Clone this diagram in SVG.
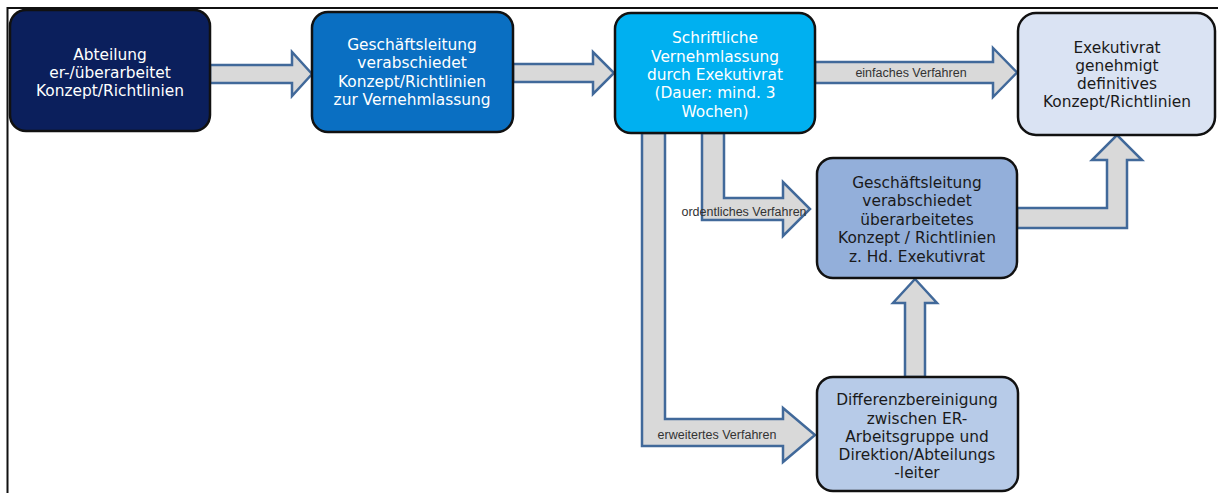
<svg xmlns="http://www.w3.org/2000/svg" width="1218" height="493" viewBox="0 0 1218 493">
<style>
.box{stroke:#111;stroke-width:2.5}
.arr{fill:#D9D9D9;stroke:#41699A;stroke-width:2.5;stroke-linejoin:miter}
.t{font-family:"DejaVu Sans",Verdana,sans-serif;font-size:15.4px;text-anchor:middle}
.w{fill:#fff}
.d{fill:#1a1a1a}
.lbl{font-family:"Liberation Sans",Arial,sans-serif;font-size:12.5px;fill:#333;text-anchor:middle}
</style>
<rect width="1218" height="493" fill="#fff"/>
<path d="M7.5,493 V8 H1218" fill="none" stroke="#111" stroke-width="2"/>
<g id="connectors">
<polygon class="arr" points="210,65 292,65 292,52 312,74 292,96 292,83 210,83"/>
<polygon class="arr" points="513,64 593,64 593,52 614,73 593,94 593,82 513,82"/>
<polygon class="arr" points="815,62 993,62 993,48 1017,72.5 993,97 993,83 815,83"/>
<polygon class="arr" points="702,133 724,133 724,198 783,198 783,182 810,209 783,236 783,220 702,220"/>
<polygon class="arr" points="642,133 665,133 665,419 783,419 783,408 815,435 783,462 783,446 642,446"/>
<polygon class="arr" points="905,377 905,303 893,303 915,279 937,303 925,303 925,377"/>
<polygon class="arr" points="1017,208 1107,208 1107,160 1092,160 1117,135 1142,160 1127,160 1127,228 1017,228"/>
<text class="lbl" x="911" y="77">einfaches Verfahren</text>
<text class="lbl" x="744" y="216">ordentliches Verfahren</text>
<text class="lbl" x="717" y="439">erweitertes Verfahren</text>
</g>
<g id="n1">
<rect class="box" x="10" y="10" width="200" height="121" rx="16" fill="#0B1F5C"/>
<text class="t w" x="110" y="60">Abteilung</text>
<text class="t w" x="110" y="78">er-/überarbeitet</text>
<text class="t w" x="110" y="96">Konzept/Richtlinien</text>
</g>
<g id="n2">
<rect class="box" x="312" y="12" width="201" height="120" rx="16" fill="#0A6FC2"/>
<text class="t w" x="412" y="50">Geschäftsleitung</text>
<text class="t w" x="412" y="68">verabschiedet</text>
<text class="t w" x="412" y="87">Konzept/Richtlinien</text>
<text class="t w" x="412" y="105">zur Vernehmlassung</text>
</g>
<g id="n3">
<rect class="box" x="615" y="13" width="200" height="120" rx="16" fill="#00B0F0"/>
<text class="t w" x="715" y="43">Schriftliche</text>
<text class="t w" x="715" y="62">Vernehmlassung</text>
<text class="t w" x="715" y="80">durch Exekutivrat</text>
<text class="t w" x="715" y="98">(Dauer: mind. 3</text>
<text class="t w" x="715" y="117">Wochen)</text>
</g>
<g id="n4">
<rect class="box" x="1018" y="13" width="197" height="122" rx="18" fill="#DAE3F3"/>
<text class="t d" x="1117" y="53">Exekutivrat</text>
<text class="t d" x="1117" y="71">genehmigt</text>
<text class="t d" x="1117" y="89">definitives</text>
<text class="t d" x="1117" y="107">Konzept/Richtlinien</text>
</g>
<g id="n5">
<rect class="box" x="817" y="158" width="200" height="120" rx="16" fill="#93AFDA"/>
<text class="t d" x="917" y="188">Geschäftsleitung</text>
<text class="t d" x="917" y="206">verabschiedet</text>
<text class="t d" x="917" y="225">überarbeitetes</text>
<text class="t d" x="917" y="243">Konzept / Richtlinien</text>
<text class="t d" x="917" y="262">z. Hd. Exekutivrat</text>
</g>
<g id="n6">
<rect class="box" x="817" y="377" width="201" height="114" rx="16" fill="#B7CBE8"/>
<text class="t d" x="917" y="405">Differenzbereinigung</text>
<text class="t d" x="917" y="424">zwischen ER-</text>
<text class="t d" x="917" y="442">Arbeitsgruppe und</text>
<text class="t d" x="917" y="460">Direktion/Abteilungs</text>
<text class="t d" x="917" y="478">-leiter</text>
</g>
</svg>
